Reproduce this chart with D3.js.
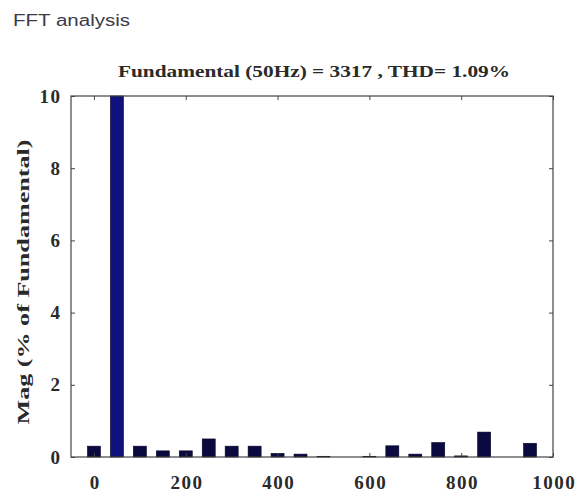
<!DOCTYPE html>
<html><head><meta charset="utf-8">
<script src="https://cdn.jsdelivr.net/npm/d3@7"></script>
<style>body{margin:0;background:#fff}</style>
</head><body>
<svg id="c" width="579" height="497"></svg>
<script>
const frequencies = [0,50,100,150,200,250,300,350,400,450,500,550,600,650,700,750,800,850,900,950];
const magnitudes = [0.30,10.0,0.30,0.17,0.17,0.50,0.30,0.30,0.10,0.08,0.02,0.0,0.02,0.31,0.08,0.40,0.03,0.69,0.0,0.38];
const xTicks = [0,200,400,600,800,1000];
const yTicks = [0,2,4,6,8,10];
const titleText = "Fundamental (50Hz) = 3317 , THD= 1.09%";
const yLabel = "Mag (% of Fundamental)";

const svg = d3.select("#c");
const L=71, R=553, T=96, B=457;
const x = d3.scaleLinear().domain([-50,1000]).range([L,R]);
const y = d3.scaleLinear().domain([0,10]).range([B,T]);
const serif = "'Liberation Serif','DejaVu Serif',serif";

svg.append("text").attr("x",13).attr("y",26).text("FFT analysis")
  .attr("font-family","'Liberation Sans','DejaVu Sans',sans-serif")
  .attr("font-size",16).attr("fill","#3a3a48")
  .attr("textLength",117).attr("lengthAdjust","spacingAndGlyphs");

const bw = 13;
svg.append("g").selectAll("rect").data(frequencies).join("rect")
  .attr("x",(d)=>x(d)-bw/2)
  .attr("y",(d,i)=>y(Math.min(magnitudes[i],10)))
  .attr("width",bw)
  .attr("height",(d,i)=>B-y(Math.min(magnitudes[i],10)))
  .attr("fill",(d,i)=>i===1?"#10107e":"#0a0a40")
  .attr("stroke","#000020").attr("stroke-width",0.6);

svg.append("rect").attr("x",L).attr("y",T).attr("width",R-L).attr("height",B-T)
  .attr("fill","none").attr("stroke","#444").attr("stroke-width",1.2);

const fmt = d3.format("d");
const gx = svg.append("g").attr("transform",`translate(0,${B})`)
  .call(d3.axisBottom(x).tickValues(xTicks).tickSizeInner(-4).tickSizeOuter(0).tickPadding(19).tickFormat(fmt));
const gxt = svg.append("g").attr("transform",`translate(0,${T})`)
  .call(d3.axisTop(x).tickValues(xTicks).tickSizeInner(-4).tickSizeOuter(0).tickFormat(""));
const gy = svg.append("g").attr("transform",`translate(${L},0)`)
  .call(d3.axisLeft(y).tickValues(yTicks).tickSizeInner(-4).tickSizeOuter(0).tickPadding(11).tickFormat(fmt));
const gyr = svg.append("g").attr("transform",`translate(${R},0)`)
  .call(d3.axisRight(y).tickValues(yTicks).tickSizeInner(-4).tickSizeOuter(0).tickFormat(""));
[gx,gxt,gy,gyr].forEach(g=>{
  g.select(".domain").remove();
  g.selectAll(".tick line").attr("stroke","#444");
  g.selectAll("text").attr("font-family",serif).attr("font-weight","bold").attr("font-size",19)
    .attr("fill","#2a2a2a").attr("letter-spacing",1.5);
});
gx.selectAll("text").attr("dx",0.75);
gy.selectAll("text").attr("dx",1.5);

svg.append("text").attr("x",314).attr("y",77).attr("text-anchor","middle").text(titleText)
  .attr("font-family",serif).attr("font-weight","bold").attr("font-size",17).attr("fill","#2a2a2a")
  .attr("textLength",392).attr("lengthAdjust","spacingAndGlyphs");

svg.append("text").attr("transform",`translate(29,282) rotate(-90)`)
  .attr("text-anchor","middle").text(yLabel)
  .attr("font-family",serif).attr("font-weight","bold").attr("font-size",16).attr("fill","#2a2a2a")
  .attr("textLength",285).attr("lengthAdjust","spacingAndGlyphs");
</script>
</body></html>
